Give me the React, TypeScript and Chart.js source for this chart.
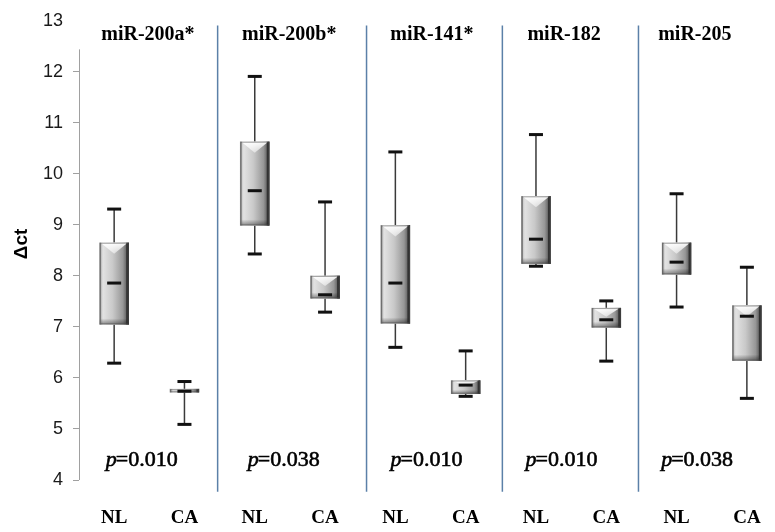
import React, { useEffect, useRef } from 'react';
import { Chart, registerables } from 'chart.js';

Chart.register(...registerables);

// ---------- data ----------
const categories = ['NL', 'CA', 'NL', 'CA', 'NL', 'CA', 'NL', 'CA', 'NL', 'CA'];
const groupNames = ['miR-200a*', 'miR-200b*', 'miR-141*', 'miR-182', 'miR-205'];
const pValues = ['0.010', '0.038', '0.010', '0.010', '0.038'];
const whiskerMax = [9.31, 5.93, 11.91, 9.45, 10.43, 6.53, 10.77, 7.51, 9.61, 8.17];
const q3 = [8.65, 5.78, 10.63, 8.0, 8.99, 5.95, 9.56, 7.37, 8.65, 7.42];
const median = [7.86, 5.74, 9.67, 7.63, 7.86, 5.86, 8.72, 7.14, 8.27, 7.21];
const q1 = [7.05, 5.72, 8.99, 7.56, 7.07, 5.69, 8.24, 6.99, 8.03, 6.34];
const whiskerMin = [6.29, 5.09, 8.43, 7.29, 6.6, 5.64, 8.19, 6.33, 7.39, 5.6];
const yTicks = [4, 5, 6, 7, 8, 9, 10, 11, 12, 13];

// ---------- layout constants (x in category units) ----------
const separatorAt = [1.472, 3.59, 5.522, 7.458];
const titleAt = [0.48, 2.49, 4.52, 6.4, 8.26];
const pAt = [0.4, 2.42, 4.45, 6.37, 8.3];

const SERIF = '"Liberation Serif", "Times New Roman", serif';
const SANS = '"Liberation Sans", Arial, sans-serif';
const BOX_W = 29;

function drawBevel(ctx: CanvasRenderingContext2D, x0: number, x1: number, top: number, bottom: number) {
  const w = x1 - x0;
  const h = bottom - top;
  const cx = (x0 + x1) / 2;
  const d = Math.min(11, h * 0.45);
  const g = ctx.createLinearGradient(0, top, 0, top + d);
  g.addColorStop(0, 'rgba(255,255,255,0.97)');
  g.addColorStop(1, 'rgba(255,255,255,0.5)');
  ctx.beginPath();
  ctx.moveTo(x0 + 1, top);
  ctx.lineTo(x1 - 1, top);
  ctx.lineTo(cx, top + d);
  ctx.closePath();
  ctx.fillStyle = g;
  ctx.fill();
  const bh = Math.min(6, h * 0.3);
  const g2 = ctx.createLinearGradient(0, bottom - bh, 0, bottom);
  g2.addColorStop(0, 'rgba(0,0,0,0)');
  g2.addColorStop(1, 'rgba(0,0,0,0.4)');
  ctx.fillStyle = g2;
  ctx.fillRect(x0, bottom - bh, w, bh);
  ctx.fillStyle = 'rgba(40,40,40,0.8)';
  ctx.fillRect(x1 - 2.5, top, 2.5, h);
  ctx.fillStyle = 'rgba(120,120,120,0.7)';
  ctx.fillRect(x0, top, 1.5, h);
  ctx.strokeStyle = 'rgba(80,80,80,0.55)';
  ctx.lineWidth = 1;
  ctx.strokeRect(x0 + 0.5, top + 0.5, w - 1, h - 1);
}

const decorPlugin = {
  id: 'decor',
  beforeDatasetsDraw(chart: any) {
    const ctx: CanvasRenderingContext2D = chart.ctx;
    const xs = chart.scales.x;
    const ys = chart.scales.y;
    ctx.save();
    ctx.strokeStyle = '#3a3a3a';
    ctx.lineWidth = 1.5;
    categories.forEach((_, i) => {
      const px = xs.getPixelForValue(i);
      ctx.beginPath();
      ctx.moveTo(px, ys.getPixelForValue(whiskerMax[i]));
      ctx.lineTo(px, ys.getPixelForValue(q3[i]));
      ctx.moveTo(px, ys.getPixelForValue(q1[i]));
      ctx.lineTo(px, ys.getPixelForValue(whiskerMin[i]));
      ctx.stroke();
    });
    ctx.restore();
  },
  afterDatasetsDraw(chart: any) {
    const ctx: CanvasRenderingContext2D = chart.ctx;
    const xs = chart.scales.x;
    const ys = chart.scales.y;
    const meta = chart.getDatasetMeta(0);
    ctx.save();
    meta.data.forEach((el: any) => {
      const p = el.getProps(['x', 'y', 'base', 'width'], true);
      const x0 = p.x - p.width / 2;
      const x1 = p.x + p.width / 2;
      const top = Math.min(p.y, p.base);
      const bottom = Math.max(p.y, p.base);
      drawBevel(ctx, x0, x1, top, bottom);
    });
    ctx.fillStyle = '#111';
    categories.forEach((_, i) => {
      const px = xs.getPixelForValue(i);
      [whiskerMax[i], whiskerMin[i], median[i]].forEach((v) => {
        const py = ys.getPixelForValue(v);
        ctx.fillRect(px - 7, py - 1.5, 14, 3);
      });
    });
    ctx.restore();
  },
  afterDraw(chart: any) {
    const ctx: CanvasRenderingContext2D = chart.ctx;
    const xs = chart.scales.x;
    const ys = chart.scales.y;
    const area = chart.chartArea;
    ctx.save();
    // y axis line
    ctx.strokeStyle = '#a0a0a0';
    ctx.lineWidth = 1;
    ctx.beginPath();
    ctx.moveTo(Math.round(area.left) + 0.5, ys.getPixelForValue(12.44));
    ctx.lineTo(Math.round(area.left) + 0.5, ys.getPixelForValue(4));
    ctx.stroke();
    // separators
    ctx.strokeStyle = '#5b80a8';
    ctx.lineWidth = 1.5;
    separatorAt.forEach((s) => {
      const px = xs.getPixelForValue(s);
      ctx.beginPath();
      ctx.moveTo(px, ys.getPixelForValue(12.91));
      ctx.lineTo(px, ys.getPixelForValue(3.77));
      ctx.stroke();
    });
    // group titles
    ctx.fillStyle = '#000';
    ctx.textAlign = 'center';
    ctx.textBaseline = 'middle';
    ctx.font = `bold 20px ${SERIF}`;
    groupNames.forEach((n, g) => {
      ctx.fillText(n, xs.getPixelForValue(titleAt[g]), 35);
    });
    // p values
    ctx.strokeStyle = '#000';
    ctx.lineWidth = 0.6;
    pValues.forEach((pv, g) => {
      const cx = xs.getPixelForValue(pAt[g]);
      ctx.font = `italic 22px ${SERIF}`;
      const wp = ctx.measureText('p').width;
      ctx.font = `22px ${SERIF}`;
      const rest = '=' + pv;
      const wr = ctx.measureText(rest).width;
      const start = cx - (wp + wr) / 2;
      ctx.textAlign = 'left';
      ctx.textBaseline = 'alphabetic';
      ctx.font = `italic 22px ${SERIF}`;
      ctx.fillText('p', start, 466);
      ctx.strokeText('p', start, 466);
      ctx.font = `22px ${SERIF}`;
      ctx.fillText(rest, start + wp - 1, 466);
      ctx.strokeText(rest, start + wp - 1, 466);
    });
    // y title
    ctx.translate(22, 244);
    ctx.rotate(-Math.PI / 2);
    ctx.textAlign = 'center';
    ctx.textBaseline = 'middle';
    ctx.font = `bold 19px ${SANS}`;
    ctx.fillText('Δct', 0, 0);
    ctx.restore();
  },
};

export default function App() {
  const ref = useRef<HTMLCanvasElement | null>(null);

  useEffect(() => {
    if (!ref.current) return;
    const chart = new Chart(ref.current, {
      type: 'bar',
      data: {
        datasets: [
          {
            data: categories.map((_, i) => ({ x: i, y: [q1[i], q3[i]] })) as any,
            barThickness: BOX_W,
            borderWidth: 0,
            backgroundColor: (c: any) => {
              const ch = c.chart;
              if (!ch.chartArea || c.dataIndex === undefined) return '#bbb';
              const cx = ch.scales.x.getPixelForValue(c.dataIndex);
              const g = ch.ctx.createLinearGradient(cx - BOX_W / 2, 0, cx + BOX_W / 2, 0);
              g.addColorStop(0, '#b5b5b5');
              g.addColorStop(0.12, '#e2e2e2');
              g.addColorStop(0.45, '#c9c9c9');
              g.addColorStop(0.8, '#979797');
              g.addColorStop(0.92, '#676767');
              g.addColorStop(1, '#3a3a3a');
              return g;
            },
          },
        ],
      },
      options: {
        responsive: false,
        animation: false,
        events: [],
        layout: { padding: { top: 18, right: 0, left: 0, bottom: 0 } },
        plugins: { legend: { display: false }, tooltip: { enabled: false } },
        scales: {
          x: {
            type: 'linear',
            offset: false,
            min: -0.5,
            max: 9.4,
            grid: { display: false, offset: false },
            border: { display: false },
            afterBuildTicks: (s: any) => {
              s.ticks = categories.map((_, i) => ({ value: i }));
            },
            afterFit: (s: any) => {
              s.height = 52;
              s.paddingLeft = 0;
              s.paddingRight = 0;
            },
            ticks: {
              autoSkip: false,
              maxRotation: 0,
              padding: 19,
              color: '#000',
              font: { family: SERIF, size: 19, weight: 'bold' },
              callback: (v: any) => categories[v] ?? '',
            },
          },
          y: {
            min: 4,
            max: 13,
            afterBuildTicks: (s: any) => {
              s.ticks = yTicks.map((v) => ({ value: v }));
            },
            afterFit: (s: any) => {
              s.width = 79;
            },
            border: { display: false },
            grid: {
              drawOnChartArea: false,
              drawTicks: true,
              tickLength: 6,
              color: (c: any) => (c.tick && c.tick.value === 13 ? 'rgba(0,0,0,0)' : '#a0a0a0'),
            },
            ticks: {
              padding: 10,
              color: '#1a1a1a',
              font: { family: SANS, size: 18 },
            },
          },
        },
      },
      plugins: [decorPlugin],
    });
    return () => chart.destroy();
  }, []);

  return (
    <div style={{ position: 'fixed', left: 0, top: 0, width: 775, height: 532, background: '#fff' }}>
      <canvas ref={ref} width={775} height={532} />
    </div>
  );
}
